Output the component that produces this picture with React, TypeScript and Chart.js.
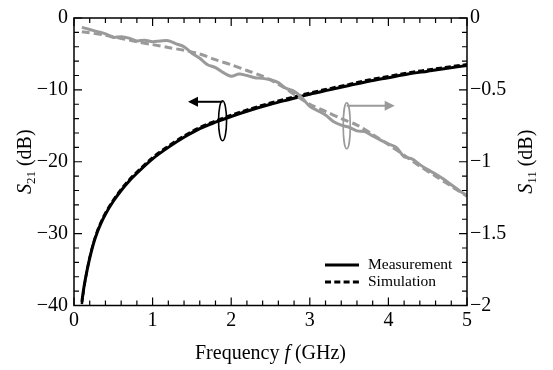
import React, { useEffect, useRef } from "react";
import { Chart, registerables } from "chart.js";

Chart.register(...registerables);

// ---------- data ----------
const s21Freq = [0.1, 0.12, 0.14, 0.17, 0.2, 0.25, 0.3, 0.35, 0.4, 0.5, 0.6, 0.7, 0.8, 1.0, 1.2, 1.4, 1.6, 1.8, 2.0, 2.25, 2.5, 2.75, 3.0, 3.25, 3.5, 3.75, 4.0, 4.25, 4.5, 4.75, 5.0];
const s21Meas = [-39.5, -37.9, -36.6, -34.9, -33.4, -31.3, -29.7, -28.4, -27.3, -25.5, -24.0, -22.7, -21.6, -19.6, -18.0, -16.6, -15.4, -14.5, -13.7, -12.8, -12.0, -11.3, -10.6, -10.0, -9.4, -8.8, -8.3, -7.8, -7.4, -7.0, -6.6];
const s21Sim = [-39.8, -38.1, -36.7, -34.9, -33.3, -31.2, -29.5, -28.2, -27.1, -25.3, -23.8, -22.5, -21.4, -19.4, -17.8, -16.4, -15.2, -14.3, -13.5, -12.6, -11.8, -11.1, -10.4, -9.8, -9.2, -8.6, -8.1, -7.6, -7.2, -6.8, -6.45];

const s11MeasFreq = [0.1, 0.2, 0.3, 0.4, 0.5, 0.6, 0.7, 0.8, 0.9, 1.0, 1.1, 1.2, 1.3, 1.4, 1.5, 1.6, 1.7, 1.8, 1.9, 2.0, 2.1, 2.2, 2.3, 2.4, 2.5, 2.6, 2.7, 2.8, 2.9, 3.0, 3.1, 3.2, 3.3, 3.4, 3.5, 3.6, 3.7, 3.8, 3.9, 4.0, 4.1, 4.2, 4.3, 4.4, 4.5, 4.6, 4.7, 4.8, 4.9, 5.0];
const s11Meas = [-0.065, -0.08, -0.095, -0.11, -0.135, -0.13, -0.14, -0.16, -0.154, -0.165, -0.16, -0.158, -0.18, -0.2, -0.245, -0.28, -0.325, -0.345, -0.38, -0.405, -0.39, -0.4, -0.415, -0.42, -0.43, -0.45, -0.49, -0.51, -0.555, -0.615, -0.645, -0.675, -0.72, -0.745, -0.76, -0.785, -0.79, -0.82, -0.85, -0.875, -0.9, -0.965, -0.98, -1.02, -1.055, -1.085, -1.12, -1.16, -1.2, -1.235];

const s11SimFreq = [0.1, 0.4, 0.8, 1.0, 1.2, 1.4, 1.6, 1.8, 2.0, 2.2, 2.4, 2.6, 2.8, 3.0, 3.2, 3.4, 3.6, 3.8, 4.0, 4.2, 4.4, 4.6, 4.8, 5.0];
const s11Sim = [-0.095, -0.12, -0.165, -0.185, -0.205, -0.225, -0.25, -0.29, -0.325, -0.365, -0.405, -0.46, -0.53, -0.6, -0.65, -0.7, -0.745, -0.81, -0.88, -0.955, -1.03, -1.1, -1.17, -1.24];

const legendLabels = ["Measurement", "Simulation"];
const xTitle = ["Frequency ", "f", " (GHz)"];
const leftTitle = ["S", "21", " (dB)"];
const rightTitle = ["S", "11", " (dB)"];

const FONT = "'Liberation Serif', 'Times New Roman', Times, serif";
const GRAY = "#9a9a9a";

const fmt = (v: number) => (v < 0 ? "\u2212" + String(Math.abs(v)) : String(v));
const pts = (xs: number[], ys: number[]) => xs.map((x, i) => ({ x, y: ys[i] }));

function drawSubTitle(ctx: CanvasRenderingContext2D, parts: string[], cx: number, cy: number) {
  ctx.save();
  ctx.translate(cx, cy);
  ctx.rotate(-Math.PI / 2);
  ctx.textBaseline = "alphabetic";
  ctx.textAlign = "left";
  const f1 = `italic 20px ${FONT}`;
  const f2 = `13px ${FONT}`;
  const f3 = `20px ${FONT}`;
  ctx.font = f1; const w1 = ctx.measureText(parts[0]).width;
  ctx.font = f2; const w2 = ctx.measureText(parts[1]).width;
  ctx.font = f3; const w3 = ctx.measureText(parts[2]).width;
  let x = -(w1 + w2 + w3) / 2;
  ctx.fillStyle = "#000";
  ctx.font = f1; ctx.fillText(parts[0], x, 0); x += w1;
  ctx.font = f2; ctx.fillText(parts[1], x, 4); x += w2;
  ctx.font = f3; ctx.fillText(parts[2], x, 0);
  ctx.restore();
}

const decorPlugin = {
  id: "decor",
  afterDatasetsDraw(chart: any) {
    const { ctx, scales } = chart;
    const x = scales.x, yl = scales.yL, yr = scales.yR;
    ctx.save();
    {
      const cx = x.getPixelForValue(1.89);
      const cy = yl.getPixelForValue(-14.3);
      ctx.strokeStyle = "#000"; ctx.fillStyle = "#000"; ctx.lineWidth = 1.6;
      ctx.beginPath(); ctx.ellipse(cx, cy, 4, 20, 0, 0, Math.PI * 2); ctx.stroke();
      const ly = cy - 19;
      const tip = x.getPixelForValue(1.45);
      ctx.lineWidth = 2;
      ctx.beginPath(); ctx.moveTo(cx, ly); ctx.lineTo(tip + 8, ly); ctx.stroke();
      ctx.beginPath(); ctx.moveTo(tip, ly); ctx.lineTo(tip + 10, ly - 5); ctx.lineTo(tip + 10, ly + 5); ctx.closePath(); ctx.fill();
    }
    {
      const cx = x.getPixelForValue(3.47);
      const cy = yr.getPixelForValue(-0.75);
      ctx.strokeStyle = GRAY; ctx.fillStyle = GRAY; ctx.lineWidth = 1.6;
      ctx.beginPath(); ctx.ellipse(cx, cy, 3.5, 23, 0, 0, Math.PI * 2); ctx.stroke();
      const ly = cy - 20;
      const tip = x.getPixelForValue(4.08);
      ctx.lineWidth = 2;
      ctx.beginPath(); ctx.moveTo(cx, ly); ctx.lineTo(tip - 8, ly); ctx.stroke();
      ctx.beginPath(); ctx.moveTo(tip, ly); ctx.lineTo(tip - 10, ly - 5); ctx.lineTo(tip - 10, ly + 5); ctx.closePath(); ctx.fill();
    }
    ctx.restore();
  },
  afterDraw(chart: any) {
    const { ctx, chartArea: a, scales } = chart;
    const x = scales.x, yl = scales.yL, yr = scales.yR;
    ctx.save();
    ctx.strokeStyle = "#000";
    ctx.lineWidth = 1.5;
    ctx.strokeRect(a.left, a.top, a.right - a.left, a.bottom - a.top);
    ctx.lineWidth = 1.2;
    ctx.beginPath();
    for (let i = 0; i <= 25; i++) {
      const px = x.getPixelForValue(i * 0.2);
      const len = i % 5 === 0 ? 8 : 5;
      ctx.moveTo(px, a.bottom); ctx.lineTo(px, a.bottom - len);
      ctx.moveTo(px, a.top); ctx.lineTo(px, a.top + len);
    }
    for (let i = 0; i <= 20; i++) {
      const py = yl.getPixelForValue(-40 + i * 2);
      const len = i % 5 === 0 ? 8 : 5;
      ctx.moveTo(a.left, py); ctx.lineTo(a.left + len, py);
    }
    for (let i = 0; i <= 20; i++) {
      const py = yr.getPixelForValue(-2 + i * 0.1);
      const len = i % 5 === 0 ? 8 : 5;
      ctx.moveTo(a.right, py); ctx.lineTo(a.right - len, py);
    }
    ctx.stroke();

    ctx.fillStyle = "#000";
    ctx.textBaseline = "alphabetic";
    ctx.textAlign = "left";
    const n = `20px ${FONT}`, it = `italic 20px ${FONT}`;
    ctx.font = n; const w1 = ctx.measureText(xTitle[0]).width;
    ctx.font = it; const w2 = ctx.measureText(xTitle[1]).width;
    ctx.font = n; const w3 = ctx.measureText(xTitle[2]).width;
    let tx = (a.left + a.right) / 2 - (w1 + w2 + w3) / 2;
    const ty = 359;
    ctx.font = n; ctx.fillText(xTitle[0], tx, ty); tx += w1;
    ctx.font = it; ctx.fillText(xTitle[1], tx, ty); tx += w2;
    ctx.font = n; ctx.fillText(xTitle[2], tx, ty);

    const cy = (a.top + a.bottom) / 2;
    drawSubTitle(ctx, leftTitle, 31, cy);
    drawSubTitle(ctx, rightTitle, 532, cy);

    const lx0 = 325, lx1 = 359;
    const rows = [265, 282];
    ctx.lineWidth = 3;
    ctx.strokeStyle = "#000";
    ctx.beginPath(); ctx.moveTo(lx0, rows[0]); ctx.lineTo(lx1, rows[0]); ctx.stroke();
    ctx.setLineDash([6, 3.3]);
    ctx.beginPath(); ctx.moveTo(lx0, rows[1]); ctx.lineTo(lx1, rows[1]); ctx.stroke();
    ctx.setLineDash([]);
    ctx.font = `15.5px ${FONT}`;
    ctx.textBaseline = "middle";
    ctx.fillText(legendLabels[0], 368, rows[0]);
    ctx.fillText(legendLabels[1], 368, rows[1]);
    ctx.restore();
  },
};

export default function App() {
  const ref = useRef<HTMLCanvasElement | null>(null);
  useEffect(() => {
    if (!ref.current) return;
    const chart = new Chart(ref.current, {
      type: "line",
      data: {
        datasets: [
          {
            label: "S11 meas",
            data: pts(s11MeasFreq, s11Meas),
            yAxisID: "yR",
            borderColor: GRAY,
            borderWidth: 3,
            pointRadius: 0,
            tension: 0.3,
            fill: false,
          },
          {
            label: "S11 sim",
            data: pts(s11SimFreq, s11Sim),
            yAxisID: "yR",
            borderColor: GRAY,
            borderWidth: 3,
            borderDash: [8, 4],
            pointRadius: 0,
            tension: 0.3,
            fill: false,
          },
          {
            label: "S21 sim",
            data: pts(s21Freq, s21Sim),
            yAxisID: "yL",
            borderColor: "#000",
            borderWidth: 2.5,
            borderDash: [6, 3],
            pointRadius: 0,
            cubicInterpolationMode: "monotone",
            fill: false,
          },
          {
            label: "S21 meas",
            data: pts(s21Freq, s21Meas),
            yAxisID: "yL",
            borderColor: "#000",
            borderWidth: 3,
            pointRadius: 0,
            cubicInterpolationMode: "monotone",
            fill: false,
          },
        ],
      },
      options: {
        animation: false,
        responsive: false,
        maintainAspectRatio: false,
        layout: { padding: { top: 12.5, left: 0, right: 0, bottom: 0 } },
        plugins: { legend: { display: false }, tooltip: { enabled: false } },
        scales: {
          x: {
            type: "linear",
            min: 0,
            max: 5,
            grid: { display: false, drawTicks: false },
            border: { display: false },
            ticks: {
              stepSize: 1,
              padding: 3,
              color: "#000",
              font: { family: FONT, size: 20 },
              callback: (v: any) => fmt(Number(v)),
            },
            afterFit: (s: any) => { s.height = 64.5; },
          },
          yL: {
            type: "linear",
            position: "left",
            min: -40,
            max: 0,
            grid: { display: false, drawTicks: false },
            border: { display: false },
            ticks: {
              stepSize: 10,
              padding: 6,
              color: "#000",
              font: { family: FONT, size: 20 },
              callback: (v: any) => fmt(Number(v)),
            },
            afterFit: (s: any) => { s.width = 74; },
          },
          yR: {
            type: "linear",
            position: "right",
            min: -2,
            max: 0,
            grid: { display: false, drawTicks: false },
            border: { display: false },
            ticks: {
              stepSize: 0.5,
              padding: 3,
              color: "#000",
              font: { family: FONT, size: 20 },
              callback: (v: any) => fmt(Number(v)),
            },
            afterFit: (s: any) => { s.width = 86; },
          },
        },
      } as any,
      plugins: [decorPlugin],
    });
    return () => chart.destroy();
  }, []);
  return (
    <div style={{ position: "fixed", left: 0, top: 0, width: 553, height: 370, background: "#fff" }}>
      <canvas ref={ref} width={553} height={370} style={{ display: "block", width: 553, height: 370 }} />
    </div>
  );
}
